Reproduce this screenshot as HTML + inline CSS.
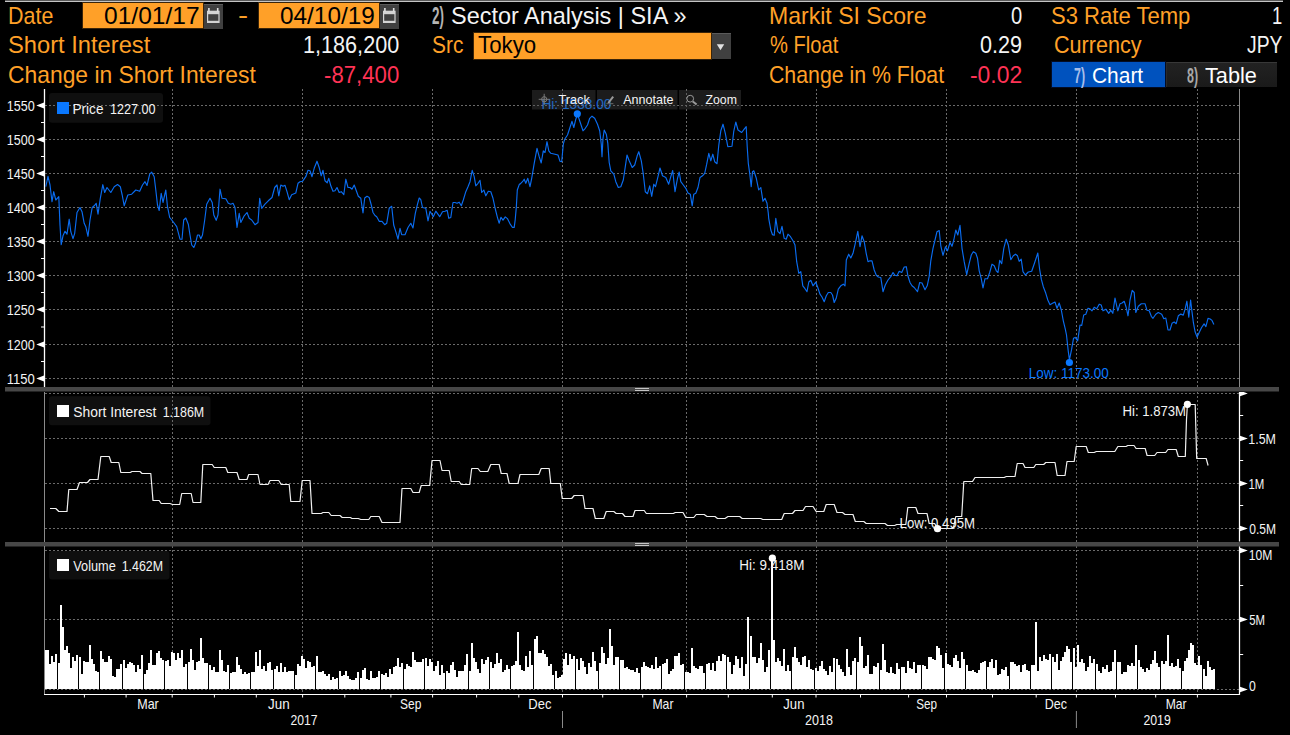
<!DOCTYPE html>
<html lang="en"><head><meta charset="utf-8"><title>Short Interest - Sector Analysis</title>
<style>
html,body{margin:0;padding:0;background:#000;}
body{width:1290px;height:735px;position:relative;overflow:hidden;font-family:"Liberation Sans",sans-serif;color:#f4f4f4;}
.h{position:absolute;white-space:pre;font-size:24px;line-height:30px;height:30px;transform-origin:0 0;}
.b{font-size:22px;}
.n{font-weight:bold;}
.box{position:absolute;box-sizing:border-box;}
.inp{background:#FFA028;border:1px solid #3a2408;}
.btn{background:#404040;border-top:1px solid #5a5a5a;}
svg{position:absolute;left:0;top:0;}
svg text{font-family:"Liberation Sans",sans-serif;font-size:14px;white-space:pre;}
</style></head><body>
<div class="box" style="left:5px;top:0;width:1278px;height:1px;background:#5a5a5a"></div>
<div class="box" style="left:5px;top:1px;width:1278px;height:1px;background:#c4c4c4"></div>
<div class="box inp" style="left:82px;top:2px;width:121.5px;height:27px"></div>
<div class="box btn" style="left:204px;top:4px;width:19px;height:24.5px"></div>
<div class="box inp" style="left:258px;top:2px;width:121.5px;height:27px"></div>
<div class="box btn" style="left:380px;top:4px;width:19px;height:24.5px"></div>
<div class="box inp" style="left:473px;top:32px;width:239px;height:28px"></div>
<div class="box btn" style="left:712.3px;top:33px;width:19px;height:26px"></div>
<div class="box" style="left:1052px;top:62px;width:113px;height:25px;background:#0052BE;outline:1px solid #030c24"></div>
<div class="box" style="left:1166px;top:62px;width:111px;height:25px;background:linear-gradient(#222,#1a1a1a);border-top:1px solid #383838;border-left:1px solid #2a2a2a"></div>
<span class="h" style="left:8.01px;top:1.00px;color:#FFA028;transform:scaleX(0.8937)">Date</span>
<span class="h" style="left:103.99px;top:1.00px;color:#000;transform:scaleX(1.0238)">01/01/17</span>
<span class="h" style="left:237.93px;top:0.00px;color:#FFA028;transform:scaleX(1.2667)">-</span>
<span class="h" style="left:279.79px;top:1.00px;color:#000;transform:scaleX(1.0150)">04/10/19</span>
<span class="h" style="left:7.91px;top:30.00px;color:#FFA028;transform:scaleX(0.9874)">Short Interest</span>
<span class="h" style="left:303.10px;top:30.00px;color:#F4F4F4;transform:scaleX(0.9011)">1,186,200</span>
<span class="h" style="left:7.95px;top:60.00px;color:#FFA028;transform:scaleX(0.9523)">Change in Short Interest</span>
<span class="h" style="left:324.08px;top:60.00px;color:#FF3355;transform:scaleX(0.9244)">-87,400</span>
<span class="h n" style="left:431.50px;top:1.00px;color:#B4B4B4;transform:scaleX(0.5603)">2)</span>
<span class="h" style="left:450.52px;top:1.00px;color:#F4F4F4;transform:scaleX(0.9773)">Sector Analysis | SIA »</span>
<span class="h" style="left:431.63px;top:30.00px;color:#FFA028;transform:scaleX(0.8714)">Src</span>
<span class="h" style="left:478.00px;top:30.00px;color:#000;transform:scaleX(0.9271)">Tokyo</span>
<span class="h" style="left:768.53px;top:1.00px;color:#FFA028;transform:scaleX(0.9601)">Markit SI Score</span>
<span class="h" style="left:1010.80px;top:1.00px;color:#F4F4F4;transform:scaleX(0.8385)">0</span>
<span class="h" style="left:769.70px;top:30.00px;color:#FFA028;transform:scaleX(0.8397)">% Float</span>
<span class="h" style="left:980.00px;top:30.00px;color:#F4F4F4;transform:scaleX(0.8994)">0.29</span>
<span class="h" style="left:768.81px;top:60.00px;color:#FFA028;transform:scaleX(0.8868)">Change in % Float</span>
<span class="h" style="left:969.85px;top:60.00px;color:#FF3355;transform:scaleX(0.9540)">-0.02</span>
<span class="h" style="left:1051.08px;top:1.00px;color:#FFA028;transform:scaleX(0.9189)">S3 Rate Temp</span>
<span class="h" style="left:1271.73px;top:1.00px;color:#F4F4F4;transform:scaleX(0.7667)">1</span>
<span class="h" style="left:1053.60px;top:30.00px;color:#FFA028;transform:scaleX(0.9003)">Currency</span>
<span class="h" style="left:1247.49px;top:30.00px;color:#F4F4F4;transform:scaleX(0.8054)">JPY</span>
<span class="h b n" style="left:1074.30px;top:61.00px;color:#A8BEEA;transform:scaleX(0.5667)">7)</span>
<span class="h b" style="left:1091.65px;top:61.00px;color:#FFFFFF;transform:scaleX(0.9512)">Chart</span>
<span class="h b n" style="left:1186.80px;top:61.00px;color:#A8A8A8;transform:scaleX(0.5667)">8)</span>
<span class="h b" style="left:1205.10px;top:61.00px;color:#FFFFFF;transform:scaleX(0.9855)">Table</span>
<svg width="1290" height="735" viewBox="0 0 1290 735">
<g><rect x="207.0" y="10.7" width="12.6" height="12.3" fill="#d4d4d4"/><rect x="208.2" y="14.2" width="10.2" height="6.6" fill="#404040"/><rect x="208.1" y="8" width="1.6" height="3.6" fill="#e0e0e0"/><rect x="216.9" y="8" width="1.6" height="3.6" fill="#e0e0e0"/></g>
<g><rect x="383.0" y="10.7" width="12.6" height="12.3" fill="#d4d4d4"/><rect x="384.2" y="14.2" width="10.2" height="6.6" fill="#404040"/><rect x="384.1" y="8" width="1.6" height="3.6" fill="#e0e0e0"/><rect x="392.9" y="8" width="1.6" height="3.6" fill="#e0e0e0"/></g>
<polygon points="716.8,44.2 724.2,44.2 720.5,50.3" fill="#e2e2e2"/>
<rect x="49" y="93" width="114" height="29.7" rx="3" fill="#0f0f0f"/>
<rect x="49" y="396.3" width="161.5" height="29" rx="3" fill="#0f0f0f"/>
<rect x="49" y="551" width="120.5" height="28.5" rx="3" fill="#0f0f0f"/>
<path d="M45 105.5H1240M45 139.5H1240M45 173.5H1240M45 207.5H1240M45 241.5H1240M45 275.5H1240M45 309.5H1240M45 344.5H1240M45 378.5H1240M45 393.5H1240M45 438.5H1240M45 483.5H1240M45 528.5H1240M45 550.5H1240M45 619.5H1240M45 689.5H1240M172.2 89V387M172.2 392V542M172.2 546V693M302.6 89V387M302.6 392V542M302.6 546V693M432.6 89V387M432.6 392V542M432.6 546V693M562.5 89V387M562.5 392V542M562.5 546V693M686.6 89V387M686.6 392V542M686.6 546V693M816.0 89V387M816.0 392V542M816.0 546V693M946.5 89V387M946.5 392V542M946.5 546V693M1076.4 89V387M1076.4 392V542M1076.4 546V693M1197.4 89V387M1197.4 392V542M1197.4 546V693" fill="none" stroke="#6a6a6a" stroke-width="1" stroke-dasharray="2 2" shape-rendering="crispEdges"/>
<rect x="57" y="102" width="12" height="12" fill="#0A78FF"/>
<rect x="57" y="405" width="12" height="12" fill="#fff"/>
<rect x="57" y="559" width="12" height="12" fill="#fff"/>
<rect x="5" y="387" width="1274" height="4.5" fill="#474747"/>
<rect x="5" y="542" width="1274" height="4.5" fill="#474747"/>
<path d="M635 388.5H649M635 390.5H649M635 543.5H649M635 545.5H649" stroke="#c4c4c4" stroke-width="1"/>
<path d="M44.5 89V387" stroke="#fff" stroke-width="1.3"/>
<path d="M44.5 392V542M44.5 546V694" stroke="#8a8a8a" stroke-width="1"/>
<path d="M1239.5 89V387" stroke="#8a8a8a" stroke-width="1"/>
<path d="M1239.5 392V541.5M1239.5 546.5V695" stroke="#fff" stroke-width="1.25"/>
<path d="M44 694.5H1240" stroke="#fff" stroke-width="1.1"/>
<path d="M44 102.6L36.3 105.5L44 108.4ZM44 136.6L36.3 139.5L44 142.4ZM44 170.6L36.3 173.5L44 176.4ZM44 204.6L36.3 207.5L44 210.4ZM44 238.6L36.3 241.5L44 244.4ZM44 272.6L36.3 275.5L44 278.4ZM44 306.6L36.3 309.5L44 312.4ZM44 341.6L36.3 344.5L44 347.4ZM44 375.6L36.3 378.5L44 381.4Z" fill="#fff"/>
<path d="M41 122.5H44M41 156.5H44M41 190.5H44M41 224.5H44M41 258.5H44M41 292.5H44M41 327.0H44M41 361.5H44" stroke="#fff" stroke-width="1"/>
<clipPath id="pc"><rect x="1238" y="392" width="20" height="149.5"/><rect x="1238" y="546.5" width="20" height="150"/></clipPath>
<path d="M1240 390.7L1247.8 393.5L1240 396.3ZM1240 435.7L1247.8 438.5L1240 441.3ZM1240 480.7L1247.8 483.5L1240 486.3ZM1240 525.7L1247.8 528.5L1240 531.3ZM1240 547.7L1247.8 550.5L1240 553.3ZM1240 616.7L1247.8 619.5L1240 622.3ZM1240 686.7L1247.8 689.5L1240 692.3Z" fill="#fff" clip-path="url(#pc)"/>
<path d="M1240 415.5H1243.2M1240 460.5H1243.2M1240 505.5H1243.2M1240 585.5H1243.2M1240 654.5H1243.2" stroke="#fff" stroke-width="1"/>
<path d="M84.4 694V697.5M126.1 694V697.5M172.2 694V697.5M214.4 694V697.5M256.3 694V697.5M302.6 694V697.5M344.8 694V697.5M390.9 694V697.5M432.6 694V697.5M476.6 694V697.5M518.8 694V697.5M562.5 694V697.5M602.7 694V697.5M642.7 694V697.5M686.6 694V697.5M728.3 694V697.5M772.3 694V697.5M816.0 694V697.5M860.5 694V697.5M908.6 694V697.5M946.5 694V697.5M992.5 694V697.5M1036.2 694V697.5M1076.4 694V697.5M1115.5 694V697.5M1155.7 694V697.5M1197.4 694V697.5" stroke="#fff" stroke-width="1"/>
<path d="M562.5 711V728M1076.4 711V728" stroke="#8a8a8a" stroke-width="1"/>
<path d="M45 689V650H49V689ZM49 689V664H51V689ZM51 689V656H53V689ZM53 689V662H55V689ZM55 689V654H57V689ZM58 689V663H60V689ZM60 689V605H62V689ZM62 689V627H64V689ZM64 689V650H66V689ZM66 689V646H68V689ZM68 689V653H70V689ZM70 689V668H72V689ZM72 689V657H74V689ZM74 689V661H76V689ZM76 689V655H78V689ZM79 689V657H81V689ZM81 689V674H83V689ZM83 689V661H85V689ZM85 689V662H87V689ZM87 689V662H89V689ZM89 689V645H91V689ZM91 689V659H93V689ZM93 689V664H95V689ZM95 689V671H97V689ZM97 689V672H99V689ZM100 689V651H102V689ZM102 689V659H104V689ZM104 689V662H108V689ZM108 689V656H110V689ZM110 689V659H112V689ZM112 689V676H114V689ZM114 689V677H116V689ZM116 689V669H120V689ZM120 689V664H122V689ZM123 689V660H125V689ZM125 689V668H127V689ZM127 689V664H129V689ZM129 689V662H131V689ZM131 689V663H133V689ZM133 689V665H135V689ZM135 689V672H137V689ZM137 689V665H139V689ZM139 689V669H141V689ZM141 689V655H143V689ZM144 689V674H146V689ZM146 689V670H148V689ZM148 689V663H150V689ZM150 689V650H152V689ZM152 689V665H156V689ZM156 689V653H158V689ZM158 689V651H160V689ZM160 689V658H162V689ZM162 689V660H164V689ZM165 689V661H167V689ZM167 689V660H169V689ZM169 689V666H171V689ZM171 689V652H173V689ZM173 689V653H175V689ZM175 689V660H177V689ZM177 689V653H179V689ZM179 689V658H181V689ZM181 689V650H183V689ZM183 689V667H185V689ZM185 689V664H187V689ZM188 689V662H190V689ZM190 689V649H192V689ZM192 689V660H194V689ZM194 689V670H196V689ZM196 689V662H198V689ZM198 689V661H200V689ZM200 689V638H202V689ZM202 689V658H204V689ZM204 689V663H208V689ZM209 689V665H211V689ZM211 689V670H213V689ZM213 689V667H215V689ZM215 689V672H219V689ZM219 689V650H221V689ZM221 689V660H223V689ZM223 689V671H225V689ZM225 689V672H227V689ZM227 689V665H229V689ZM230 689V673H232V689ZM232 689V672H236V689ZM236 689V657H238V689ZM238 689V665H240V689ZM240 689V669H242V689ZM242 689V674H244V689ZM244 689V672H246V689ZM246 689V674H248V689ZM248 689V673H250V689ZM251 689V672H255V689ZM255 689V652H257V689ZM257 689V666H259V689ZM259 689V650H260V689ZM260 689V650H261V689ZM261 689V669H263V689ZM263 689V666H265V689ZM265 689V671H267V689ZM267 689V663H269V689ZM269 689V662H271V689ZM271 689V670H273V689ZM274 689V669H276V689ZM276 689V666H278V689ZM278 689V672H280V689ZM280 689V663H282V689ZM282 689V672H284V689ZM284 689V667H286V689ZM286 689V672H288V689ZM288 689V671H294V689ZM295 689V675H297V689ZM297 689V664H299V689ZM299 689V666H301V689ZM301 689V656H303V689ZM303 689V659H305V689ZM305 689V668H307V689ZM307 689V661H309V689ZM309 689V662H311V689ZM311 689V667H313V689ZM313 689V666H315V689ZM316 689V656H318V689ZM318 689V672H322V689ZM322 689V671H324V689ZM324 689V674H326V689ZM326 689V676H328V689ZM328 689V674H330V689ZM330 689V680H332V689ZM332 689V677H334V689ZM334 689V679H336V689ZM336 689V678H338V689ZM339 689V671H341V689ZM341 689V676H343V689ZM343 689V675H345V689ZM345 689V671H347V689ZM347 689V676H349V689ZM349 689V679H351V689ZM351 689V680H355V689ZM355 689V678H357V689ZM357 689V672H359V689ZM360 689V678H362V689ZM362 689V670H364V689ZM364 689V668H366V689ZM366 689V679H368V689ZM368 689V680H370V689ZM370 689V671H372V689ZM372 689V678H376V689ZM376 689V677H378V689ZM378 689V671H380V689ZM381 689V674H383V689ZM383 689V675H385V689ZM385 689V673H387V689ZM387 689V677H389V689ZM389 689V669H391V689ZM391 689V674H393V689ZM393 689V667H395V689ZM395 689V666H397V689ZM397 689V658H399V689ZM399 689V667H401V689ZM401 689V663H403V689ZM404 689V669H406V689ZM406 689V664H408V689ZM408 689V666H410V689ZM410 689V667H412V689ZM412 689V652H414V689ZM414 689V660H416V689ZM416 689V662H418V689ZM418 689V662H422V689ZM422 689V659H424V689ZM425 689V658H427V689ZM427 689V666H429V689ZM429 689V659H431V689ZM431 689V662H433V689ZM433 689V671H435V689ZM435 689V666H437V689ZM437 689V661H439V689ZM439 689V675H441V689ZM441 689V665H443V689ZM443 689V673H445V689ZM446 689V671H448V689ZM448 689V673H450V689ZM450 689V665H452V689ZM452 689V662H454V689ZM454 689V670H456V689ZM456 689V677H458V689ZM458 689V671H464V689ZM464 689V665H466V689ZM466 689V654H468V689ZM469 689V671H471V689ZM471 689V643H473V689ZM473 689V658H475V689ZM475 689V662H477V689ZM477 689V669H479V689ZM479 689V673H481V689ZM481 689V659H483V689ZM483 689V664H485V689ZM485 689V660H487V689ZM487 689V657H489V689ZM490 689V662H492V689ZM492 689V668H494V689ZM494 689V664H496V689ZM496 689V653H498V689ZM498 689V663H500V689ZM500 689V659H502V689ZM502 689V672H504V689ZM504 689V670H506V689ZM506 689V665H508V689ZM508 689V669H510V689ZM511 689V666H513V689ZM513 689V665H515V689ZM515 689V661H517V689ZM517 689V632H519V689ZM519 689V665H521V689ZM521 689V670H523V689ZM523 689V671H525V689ZM525 689V656H527V689ZM527 689V667H529V689ZM529 689V651H531V689ZM531 689V665H533V689ZM534 689V639H536V689ZM536 689V636H538V689ZM538 689V653H542V689ZM542 689V650H544V689ZM544 689V654H546V689ZM546 689V657H548V689ZM548 689V666H550V689ZM550 689V664H552V689ZM552 689V675H554V689ZM555 689V671H557V689ZM557 689V678H559V689ZM559 689V677H561V689ZM561 689V675H563V689ZM563 689V659H565V689ZM565 689V653H567V689ZM567 689V665H569V689ZM569 689V654H571V689ZM571 689V659H573V689ZM573 689V656H575V689ZM576 689V659H578V689ZM578 689V670H580V689ZM580 689V658H582V689ZM582 689V661H584V689ZM584 689V667H586V689ZM586 689V674H588V689ZM588 689V663H590V689ZM590 689V667H592V689ZM592 689V652H594V689ZM594 689V661H596V689ZM596 689V671H598V689ZM599 689V663H601V689ZM601 689V647H603V689ZM603 689V653H605V689ZM605 689V664H607V689ZM607 689V658H609V689ZM609 689V629H611V689ZM611 689V646H613V689ZM613 689V665H615V689ZM615 689V657H619V689ZM620 689V660H624V689ZM624 689V668H626V689ZM626 689V667H628V689ZM628 689V669H630V689ZM630 689V670H634V689ZM634 689V672H636V689ZM636 689V668H638V689ZM638 689V673H640V689ZM641 689V667H643V689ZM643 689V662H645V689ZM645 689V666H647V689ZM647 689V667H649V689ZM649 689V668H651V689ZM651 689V665H653V689ZM653 689V669H655V689ZM655 689V657H657V689ZM657 689V668H659V689ZM659 689V666H661V689ZM662 689V664H664V689ZM664 689V663H666V689ZM666 689V659H668V689ZM668 689V674H670V689ZM670 689V671H672V689ZM672 689V669H674V689ZM674 689V656H678V689ZM678 689V653H680V689ZM680 689V665H682V689ZM682 689V664H684V689ZM685 689V672H689V689ZM689 689V673H690V689ZM690 689V673H691V689ZM691 689V648H693V689ZM693 689V666H695V689ZM695 689V668H697V689ZM697 689V669H699V689ZM699 689V666H703V689ZM703 689V673H705V689ZM706 689V664H708V689ZM708 689V663H710V689ZM710 689V670H712V689ZM712 689V663H714V689ZM714 689V671H716V689ZM716 689V661H718V689ZM718 689V656H720V689ZM720 689V661H722V689ZM722 689V654H724V689ZM724 689V655H726V689ZM727 689V657H729V689ZM729 689V662H731V689ZM731 689V674H733V689ZM733 689V665H735V689ZM735 689V656H737V689ZM737 689V659H739V689ZM739 689V668H741V689ZM741 689V657H743V689ZM743 689V676H745V689ZM745 689V664H747V689ZM747 689V617H749V689ZM750 689V636H752V689ZM752 689V657H756V689ZM756 689V663H758V689ZM758 689V658H760V689ZM760 689V643H762V689ZM762 689V660H764V689ZM764 689V672H766V689ZM766 689V667H768V689ZM768 689V650H770V689ZM771 689V559H773V689ZM773 689V640H775V689ZM775 689V662H777V689ZM777 689V658H779V689ZM779 689V661H781V689ZM781 689V666H783V689ZM783 689V649H785V689ZM785 689V671H787V689ZM787 689V665H789V689ZM789 689V671H791V689ZM792 689V657H794V689ZM794 689V647H796V689ZM796 689V658H798V689ZM798 689V662H800V689ZM800 689V665H802V689ZM802 689V657H804V689ZM804 689V656H806V689ZM806 689V667H808V689ZM808 689V660H810V689ZM810 689V669H812V689ZM812 689V670H814V689ZM815 689V668H817V689ZM817 689V671H819V689ZM819 689V666H821V689ZM821 689V661H823V689ZM823 689V669H825V689ZM825 689V671H827V689ZM827 689V675H829V689ZM829 689V666H831V689ZM831 689V672H833V689ZM833 689V658H835V689ZM836 689V659H838V689ZM838 689V665H840V689ZM840 689V669H842V689ZM842 689V672H844V689ZM844 689V676H846V689ZM846 689V649H848V689ZM848 689V667H850V689ZM850 689V675H852V689ZM852 689V661H854V689ZM854 689V658H856V689ZM857 689V662H859V689ZM859 689V637H861V689ZM861 689V646H863V689ZM863 689V668H865V689ZM865 689V666H867V689ZM867 689V655H869V689ZM869 689V674H873V689ZM873 689V666H875V689ZM875 689V667H877V689ZM877 689V663H879V689ZM880 689V670H882V689ZM882 689V644H884V689ZM884 689V660H886V689ZM886 689V672H888V689ZM888 689V673H890V689ZM890 689V667H892V689ZM892 689V673H894V689ZM894 689V674H896V689ZM896 689V663H898V689ZM898 689V669H900V689ZM901 689V667H905V689ZM905 689V673H907V689ZM907 689V661H909V689ZM909 689V668H911V689ZM911 689V669H913V689ZM913 689V662H915V689ZM915 689V673H917V689ZM917 689V665H921V689ZM922 689V665H924V689ZM924 689V666H926V689ZM926 689V669H928V689ZM928 689V657H932V689ZM932 689V659H934V689ZM934 689V660H936V689ZM936 689V646H938V689ZM938 689V648H940V689ZM940 689V655H942V689ZM942 689V668H944V689ZM945 689V653H947V689ZM947 689V664H949V689ZM949 689V665H951V689ZM951 689V667H953V689ZM953 689V658H955V689ZM955 689V655H957V689ZM957 689V661H959V689ZM959 689V668H961V689ZM961 689V652H963V689ZM963 689V659H965V689ZM966 689V665H968V689ZM968 689V671H972V689ZM972 689V670H974V689ZM974 689V672H976V689ZM976 689V673H978V689ZM978 689V670H980V689ZM980 689V663H982V689ZM982 689V662H984V689ZM984 689V661H986V689ZM987 689V667H989V689ZM989 689V662H991V689ZM991 689V659H993V689ZM993 689V668H995V689ZM995 689V660H997V689ZM997 689V675H999V689ZM999 689V674H1001V689ZM1001 689V669H1003V689ZM1003 689V670H1005V689ZM1005 689V667H1007V689ZM1007 689V676H1009V689ZM1010 689V662H1014V689ZM1014 689V664H1016V689ZM1016 689V666H1018V689ZM1018 689V665H1020V689ZM1020 689V672H1022V689ZM1022 689V665H1024V689ZM1024 689V664H1026V689ZM1026 689V670H1028V689ZM1028 689V671H1030V689ZM1031 689V665H1035V689ZM1035 689V622H1037V689ZM1037 689V671H1039V689ZM1039 689V657H1041V689ZM1041 689V661H1043V689ZM1043 689V655H1045V689ZM1045 689V659H1047V689ZM1047 689V660H1049V689ZM1049 689V654H1051V689ZM1052 689V657H1054V689ZM1054 689V662H1056V689ZM1056 689V654H1058V689ZM1058 689V670H1060V689ZM1060 689V661H1062V689ZM1062 689V657H1064V689ZM1064 689V652H1066V689ZM1066 689V646H1068V689ZM1068 689V649H1070V689ZM1070 689V662H1072V689ZM1073 689V648H1075V689ZM1075 689V667H1077V689ZM1077 689V645H1079V689ZM1079 689V662H1081V689ZM1081 689V659H1083V689ZM1083 689V663H1085V689ZM1085 689V671H1087V689ZM1087 689V667H1089V689ZM1089 689V656H1091V689ZM1091 689V663H1093V689ZM1093 689V659H1095V689ZM1096 689V664H1098V689ZM1098 689V671H1100V689ZM1100 689V673H1102V689ZM1102 689V667H1104V689ZM1104 689V669H1106V689ZM1106 689V665H1108V689ZM1108 689V672H1110V689ZM1110 689V671H1112V689ZM1112 689V662H1114V689ZM1114 689V650H1116V689ZM1117 689V662H1120V689ZM1117 689V662H1121V689ZM1121 689V674H1123V689ZM1123 689V672H1127V689ZM1127 689V665H1129V689ZM1129 689V666H1131V689ZM1131 689V663H1133V689ZM1133 689V666H1135V689ZM1135 689V645H1137V689ZM1138 689V660H1140V689ZM1140 689V667H1142V689ZM1142 689V669H1144V689ZM1144 689V672H1146V689ZM1146 689V668H1148V689ZM1148 689V670H1150V689ZM1150 689V664H1152V689ZM1152 689V660H1154V689ZM1154 689V651H1156V689ZM1156 689V663H1158V689ZM1158 689V667H1160V689ZM1161 689V661H1163V689ZM1163 689V664H1165V689ZM1165 689V661H1167V689ZM1167 689V635H1169V689ZM1169 689V666H1171V689ZM1171 689V663H1173V689ZM1173 689V667H1175V689ZM1175 689V666H1177V689ZM1177 689V659H1179V689ZM1179 689V668H1181V689ZM1182 689V671H1184V689ZM1184 689V661H1186V689ZM1186 689V658H1188V689ZM1188 689V650H1190V689ZM1190 689V643H1192V689ZM1192 689V645H1194V689ZM1194 689V663H1196V689ZM1196 689V665H1198V689ZM1198 689V656H1200V689ZM1200 689V665H1202V689ZM1203 689V669H1205V689ZM1205 689V676H1207V689ZM1207 689V661H1209V689ZM1209 689V667H1211V689ZM1211 689V670H1213V689ZM1213 689V669H1215V689Z" fill="#fff" shape-rendering="crispEdges"/>
<path d="M45.8 186.7L48.0 176.3L50.0 185.0L52.0 201.7L53.7 191.7L55.8 200.0L58.8 196.7L60.0 225.0L61.2 244.7L63.0 235.8L65.0 231.3L67.0 234.2L69.2 219.2L70.8 231.7L73.0 238.7L74.7 233.3L77.0 212.5L80.0 207.5L82.0 211.7L84.2 223.3L85.8 226.7L88.0 236.3L90.0 220.0L92.2 207.5L94.2 205.8L96.2 203.3L98.0 214.2L100.3 198.3L102.8 184.7L104.7 192.5L107.0 187.5L110.8 192.5L114.2 186.7L117.5 184.5L120.3 186.7L122.2 195.0L124.2 205.8L127.8 195.0L131.7 194.2L135.8 190.0L139.7 191.3L142.5 185.0L145.0 181.7L147.0 185.5L149.7 174.2L151.7 172.2L154.2 176.7L155.8 190.0L157.5 205.0L159.2 210.5L161.2 193.3L163.0 202.5L165.8 190.0L167.5 206.7L169.7 217.5L173.3 222.0L176.7 226.7L180.0 239.2L182.0 239.2L183.7 220.0L185.8 218.0L188.3 224.2L190.0 235.0L191.7 245.0L193.8 247.5L195.5 243.3L197.5 235.0L199.2 235.0L200.8 238.7L202.5 235.0L204.7 220.0L206.7 204.2L210.0 198.3L212.2 202.5L213.8 215.0L216.2 220.3L218.0 215.0L220.0 189.2L222.0 198.3L225.8 198.7L228.3 203.3L230.8 204.2L233.0 203.3L235.0 207.5L237.0 227.5L239.2 213.3L240.8 222.5L244.2 215.8L247.0 212.5L249.2 218.3L251.7 220.0L255.0 224.7L258.0 222.5L259.7 198.3L261.7 208.3L265.0 204.2L268.3 200.8L272.0 197.5L274.7 187.5L277.0 185.0L278.8 195.8L280.8 185.0L283.0 186.3L285.0 185.3L287.0 191.7L289.2 199.7L291.7 194.7L295.8 193.0L298.0 183.3L300.0 181.7L302.5 181.3L305.8 176.7L308.0 170.3L310.0 170.8L312.0 176.7L314.2 168.3L317.0 161.2L319.2 167.5L321.2 175.8L323.0 170.3L325.0 180.8L327.2 182.8L328.8 178.3L330.8 185.8L333.0 191.3L335.0 190.8L337.0 187.5L339.2 192.5L341.3 191.7L343.8 194.7L345.8 179.2L348.0 187.5L350.0 187.5L352.0 189.2L354.2 185.0L356.3 190.8L358.3 196.3L360.8 198.3L363.0 213.0L364.7 198.0L367.0 196.3L369.2 197.5L371.3 205.0L373.0 212.5L375.0 215.5L376.7 216.7L379.2 221.3L382.0 221.3L384.7 224.7L386.7 223.3L389.2 208.3L391.7 206.3L393.7 225.0L395.8 231.7L398.0 239.2L400.0 228.3L401.7 234.7L405.0 234.7L408.0 227.5L410.8 223.3L413.0 228.0L415.3 213.3L417.5 204.2L419.2 198.0L420.8 199.7L422.5 207.5L425.8 208.3L428.0 220.8L430.0 211.3L433.3 216.7L435.8 211.2L439.7 216.7L442.5 211.7L445.0 211.3L447.2 210.3L448.8 218.3L450.8 217.5L453.0 202.5L455.0 202.5L457.0 203.3L459.2 202.2L461.3 205.8L463.3 200.0L465.8 191.7L468.0 186.7L470.0 181.7L472.2 170.3L474.2 176.7L475.8 185.8L478.0 183.3L480.0 180.3L481.7 192.5L483.8 190.0L485.8 195.8L488.3 191.3L490.8 191.7L493.0 198.3L495.3 209.0L497.4 217.3L499.1 223.2L501.0 217.3L503.0 220.2L505.3 216.9L507.4 218.6L509.9 223.6L512.3 227.3L514.2 227.3L515.2 219.8L516.3 207.4L517.3 190.0L519.4 184.1L520.0 184.2L522.5 181.7L524.2 179.2L525.8 183.3L527.8 178.3L530.0 186.7L531.7 178.3L534.2 163.3L537.0 148.3L539.2 156.7L541.2 163.0L543.3 150.8L545.0 152.5L547.0 141.7L548.8 150.8L550.8 153.3L555.0 154.2L558.0 155.0L560.0 161.3L561.7 161.7L563.3 144.2L564.7 139.2L567.5 135.0L569.7 128.3L572.0 121.3L573.8 127.5L575.8 119.2L577.5 114.2L580.0 121.7L583.0 130.8L585.3 128.3L587.5 125.0L589.7 118.3L592.0 116.2L594.7 118.3L597.5 124.2L599.7 130.8L601.3 144.2L602.0 156.7L603.0 138.3L604.2 130.0L606.3 134.2L607.8 143.3L609.2 162.5L610.8 170.8L613.8 174.2L615.8 181.7L618.3 187.5L620.8 186.7L623.3 180.0L625.3 166.7L627.0 155.0L629.2 160.8L632.2 167.5L634.7 165.0L637.2 155.8L638.8 151.7L641.3 160.8L643.3 174.2L645.3 191.7L647.5 193.7L649.7 185.8L651.7 196.3L653.8 184.2L655.5 186.7L658.0 176.7L660.0 168.0L662.5 175.8L665.8 177.5L668.7 184.2L670.8 176.7L672.7 170.5L675.0 191.7L677.5 178.3L679.2 172.0L680.8 181.7L683.3 185.0L685.8 188.3L688.0 193.0L690.3 194.2L692.2 205.8L693.8 194.2L695.8 193.3L698.0 187.5L700.0 177.5L702.5 175.8L704.7 173.3L706.7 164.2L708.8 153.3L710.8 160.8L712.8 154.2L714.7 161.7L717.0 163.7L718.8 145.0L720.8 130.8L723.0 124.2L725.3 133.3L727.8 146.7L732.0 146.3L733.7 131.7L735.8 122.0L738.0 130.0L741.7 132.5L744.2 129.2L746.2 126.7L747.2 146.7L748.3 163.3L749.7 173.3L751.2 186.7L752.5 171.7L753.8 170.8L756.3 178.3L758.7 190.0L760.8 187.5L763.0 201.3L765.0 198.3L767.0 203.3L768.3 213.3L768.7 218.3L770.8 230.0L772.5 234.7L774.2 235.3L775.8 218.3L777.8 231.3L780.0 233.7L782.0 226.3L784.2 238.3L786.2 239.2L788.0 234.2L790.5 236.7L793.0 240.8L795.0 245.0L796.7 261.7L798.8 273.3L800.8 271.7L802.8 285.8L805.0 288.7L807.0 291.7L808.8 282.0L810.8 280.3L813.0 285.8L815.8 282.2L817.8 287.5L820.0 294.2L822.0 297.0L824.2 301.7L826.3 295.8L828.3 292.5L830.8 292.5L832.5 295.0L834.2 302.5L836.2 298.3L838.3 289.2L840.8 285.8L843.3 284.2L845.0 285.8L846.3 260.0L848.7 254.2L850.8 258.0L853.0 253.3L855.3 243.3L857.8 231.3L860.0 246.7L862.0 235.8L864.2 241.7L866.2 253.3L868.0 261.7L870.0 260.8L872.0 260.8L874.2 270.0L876.3 275.3L878.3 277.0L880.8 277.5L883.0 291.7L885.3 285.0L888.0 280.0L890.8 276.7L893.0 272.5L895.0 275.3L897.0 275.8L899.2 271.3L901.7 272.5L904.2 267.0L906.3 266.7L908.0 276.3L910.0 282.5L912.0 285.8L914.2 287.5L917.5 291.7L919.7 282.5L922.0 283.0L925.0 289.7L927.2 285.8L929.2 276.3L930.8 260.8L933.0 248.3L935.0 240.0L937.0 231.7L939.2 230.5L940.8 245.8L943.0 255.3L945.5 246.7L947.5 250.8L950.0 242.5L952.0 246.3L953.8 240.0L955.8 230.0L957.8 235.0L960.0 225.3L962.0 248.3L964.2 261.7L966.7 274.7L969.2 263.3L971.3 255.0L973.3 251.7L975.8 253.3L977.5 258.3L979.2 270.8L981.2 278.3L983.0 288.0L985.0 278.7L987.5 278.7L989.7 272.5L992.0 264.2L994.2 265.8L996.3 270.8L998.0 272.5L999.7 260.3L1001.7 263.7L1003.8 248.3L1006.2 239.2L1008.3 245.0L1010.8 259.7L1013.3 255.8L1015.5 254.2L1017.5 255.8L1019.2 261.3L1021.2 259.2L1023.0 271.7L1025.3 275.0L1028.3 272.0L1031.7 271.3L1034.7 262.5L1037.8 253.0L1039.5 268.3L1041.3 279.2L1043.3 286.7L1045.8 293.3L1047.8 300.0L1050.0 304.7L1052.5 303.3L1055.0 302.0L1057.0 308.3L1059.2 303.0L1061.3 310.0L1063.3 320.8L1065.3 329.2L1066.5 335.0L1068.1 349.9L1069.4 359.9L1071.5 349.9L1073.5 338.3L1075.2 337.4L1077.7 340.8L1080.0 325.0L1081.7 325.5L1083.7 315.0L1085.8 314.2L1088.0 308.3L1090.0 308.8L1092.0 310.8L1094.2 307.2L1096.7 308.8L1099.2 304.2L1101.2 305.0L1103.0 310.8L1105.8 309.2L1108.7 313.3L1110.8 310.3L1112.8 313.3L1115.0 298.0L1117.8 310.8L1120.0 303.7L1122.0 303.0L1124.2 301.3L1126.2 307.5L1128.0 315.8L1130.0 300.0L1132.2 290.3L1134.2 292.5L1135.8 312.5L1138.3 306.3L1141.3 303.7L1145.0 303.7L1147.0 310.3L1149.2 310.8L1151.3 316.3L1153.0 318.3L1155.8 314.2L1158.3 312.5L1161.7 314.2L1163.8 318.7L1165.8 318.0L1168.0 330.0L1170.0 330.0L1172.0 323.3L1174.2 322.0L1176.2 323.7L1178.3 315.8L1180.8 314.1L1183.3 315.1L1185.1 309.2L1186.9 301.2L1188.8 317.1L1190.6 300.0L1191.8 310.4L1193.4 322.7L1195.1 331.8L1197.1 337.1L1199.2 332.4L1201.6 327.5L1204.1 323.9L1205.9 326.6L1208.0 318.4L1210.2 319.0L1212.0 320.4L1213.9 324.5" fill="none" stroke="#0A6CF0" stroke-width="1.15" stroke-linejoin="round"/>
<circle cx="577.3" cy="113.8" r="3.6" fill="#0A78FF"/>
<circle cx="1069.4" cy="362.5" r="3.6" fill="#0A78FF"/>
<path d="M50.0 508.5L55.8 508.5L58.8 511.5L67.0 511.5L68.8 489.5L77.0 489.5L79.5 482.5L87.5 482.5L90.0 479.5L98.0 479.5L100.8 456.5L109.2 456.5L111.2 462.5L118.8 462.5L120.8 472.5L130.3 472.5L132.0 471.5L140.0 471.5L142.0 473.5L150.8 473.5L153.0 500.5L159.2 500.5L161.2 503.5L170.0 503.5L172.5 504.5L179.7 504.5L181.7 493.5L191.2 493.5L193.0 502.5L200.8 502.5L202.8 464.5L212.2 464.5L214.2 467.5L225.8 467.5L227.8 472.5L237.0 472.5L239.2 479.5L247.0 479.5L248.7 474.5L258.0 474.5L258.0 474.5L260.0 484.5L268.0 484.5L270.0 480.5L278.8 480.5L281.2 484.5L289.2 484.5L290.8 501.5L300.0 501.5L302.2 480.5L310.0 480.5L312.0 513.5L321.3 513.5L323.0 512.5L328.8 512.5L331.2 515.5L340.0 515.5L342.2 517.5L350.3 517.5L352.0 518.5L358.3 518.5L360.8 519.5L368.8 519.5L370.8 516.5L379.2 516.5L382.0 522.5L400.0 522.5L402.0 488.5L410.8 488.5L413.0 492.5L419.2 492.5L421.2 485.5L429.7 485.5L432.0 460.5L440.0 460.5L442.0 470.5L449.2 470.5L451.2 481.5L459.2 481.5L461.2 484.5L468.3 484.5L469.7 484.5L471.7 468.5L478.0 468.5L480.3 471.5L487.8 471.5L490.8 464.5L499.2 464.5L501.2 473.5L507.0 473.5L509.2 483.5L518.0 483.5L520.0 474.5L538.8 474.5L541.2 468.5L549.2 468.5L550.8 483.5L560.3 483.5L562.2 498.5L571.7 498.5L574.2 495.5L583.0 495.5L585.0 508.5L593.0 508.5L595.3 518.5L603.8 518.5L606.2 511.5L613.8 511.5L616.2 513.5L622.5 513.5L625.0 516.5L633.0 516.5L635.0 510.5L644.2 510.5L646.3 513.5L673.3 513.5L675.3 512.5L678.3 512.5L683.0 512.5L685.8 517.5L693.8 517.5L696.2 514.5L704.2 514.5L707.0 516.5L715.0 516.5L717.5 518.5L725.0 518.5L728.0 516.5L739.7 516.5L742.2 518.5L760.8 518.5L762.8 519.5L781.7 519.5L784.2 513.5L792.5 513.5L795.0 510.5L803.0 510.5L805.5 506.5L813.0 506.5L816.2 511.5L823.8 511.5L826.2 504.5L834.2 504.5L837.0 512.5L842.5 512.5L845.0 514.5L853.0 514.5L855.3 521.5L863.8 521.5L866.2 523.5L885.0 523.5L887.5 525.5L894.7 525.5L896.7 524.5L905.8 524.5L907.8 507.5L915.8 507.5L918.0 513.5L927.0 513.5L929.2 523.5L934.7 523.5L937.2 528.5L953.3 528.5L955.8 516.5L961.7 516.5L963.8 481.5L972.5 481.5L975.0 477.5L1004.2 477.5L1006.3 476.5L1015.0 476.5L1017.2 463.5L1023.0 463.5L1025.0 467.5L1033.8 467.5L1035.8 464.5L1043.7 464.5L1045.8 462.5L1055.0 462.5L1057.2 475.5L1065.0 475.5L1067.0 461.5L1074.2 461.5L1076.2 446.5L1086.2 446.5L1088.3 452.5L1094.2 452.5L1096.3 451.5L1099.2 451.5L1114.8 451.5L1117.9 446.5L1126.0 446.5L1127.8 445.5L1134.0 445.5L1136.1 448.5L1145.2 448.5L1147.1 455.5L1154.7 455.5L1157.0 452.5L1165.7 452.5L1167.9 449.5L1176.2 449.5L1178.3 456.5L1185.3 456.5L1186.5 419.5L1187.4 404.5L1195.2 404.5L1195.8 426.5L1196.7 458.5L1206.2 458.5L1208.1 465.5" fill="none" stroke="#f0f0f0" stroke-width="1.2" stroke-linejoin="round"/>
<circle cx="1187.4" cy="404.3" r="3.6" fill="#fff"/>
<circle cx="937.5" cy="528.7" r="3.6" fill="#fff"/>
<circle cx="772.4" cy="558.2" r="3.6" fill="#fff"/>
<text transform="translate(541.42 109) scale(0.9785 1)" fill="#0A78FF">Hi: 1538.00</text>
<rect x="532" y="90" width="63.5" height="19.5" fill="#4d4d4d" fill-opacity="0.365"/>
<rect x="597" y="90" width="80.5" height="19.5" fill="#4d4d4d" fill-opacity="0.365"/>
<rect x="679" y="90" width="62" height="19.5" fill="#4d4d4d" fill-opacity="0.365"/>
<g stroke="#7a7a7a" stroke-width="1" fill="none"><circle cx="544.2" cy="99.3" r="2.6"/><path d="M544.2 93.8V104.8M538.7 99.3H549.7"/></g>
<path d="M608.3 103L613.2 96.6" stroke="#9a9a9a" stroke-width="2" fill="none"/><path d="M606.4 103.7H613.4" stroke="#6a6a6a" stroke-width="1"/>
<g stroke="#9a9a9a" fill="none"><circle cx="690.2" cy="98.7" r="3.4" stroke-width="1"/><path d="M692.8 101.4L696.6 104.6" stroke-width="2"/></g>
<text transform="translate(6.80 111) scale(0.8993 1)" fill="#F4F4F4">1550</text>
<text transform="translate(6.80 145) scale(0.8993 1)" fill="#F4F4F4">1500</text>
<text transform="translate(6.80 179) scale(0.8993 1)" fill="#F4F4F4">1450</text>
<text transform="translate(6.80 213) scale(0.8993 1)" fill="#F4F4F4">1400</text>
<text transform="translate(6.80 247) scale(0.8993 1)" fill="#F4F4F4">1350</text>
<text transform="translate(6.80 281) scale(0.8993 1)" fill="#F4F4F4">1300</text>
<text transform="translate(6.80 315) scale(0.8993 1)" fill="#F4F4F4">1250</text>
<text transform="translate(6.80 350) scale(0.8993 1)" fill="#F4F4F4">1200</text>
<text transform="translate(6.77 384) scale(0.9311 1)" fill="#F4F4F4">1150</text>
<text transform="translate(72.43 114) scale(0.9740 1)" fill="#F4F4F4">Price</text>
<text transform="translate(109.90 114) scale(0.9012 1)" fill="#F4F4F4">1227.00</text>
<text transform="translate(73.30 417) scale(0.9899 1)" fill="#F4F4F4">Short Interest</text>
<text transform="translate(162.71 417) scale(0.8882 1)" fill="#F4F4F4">1.186M</text>
<text transform="translate(73.30 571) scale(0.9103 1)" fill="#F4F4F4">Volume</text>
<text transform="translate(121.71 571) scale(0.8860 1)" fill="#F4F4F4">1.462M</text>
<text transform="translate(558.50 104) scale(1.0610 1)" fill="#F4F4F4" style="font-size:12px">Track</text>
<text transform="translate(623.20 104) scale(1.0471 1)" fill="#F4F4F4" style="font-size:12px">Annotate</text>
<text transform="translate(705.50 104) scale(1.0268 1)" fill="#F4F4F4" style="font-size:12px">Zoom</text>
<text transform="translate(1028.74 378) scale(0.9643 1)" fill="#0A78FF">Low: 1173.00</text>
<text transform="translate(1122.56 416) scale(0.9389 1)" fill="#F4F4F4">Hi: 1.873M</text>
<text transform="translate(899.56 528) scale(0.9427 1)" fill="#F4F4F4">Low: 0.495M</text>
<text transform="translate(739.34 570) scale(0.9616 1)" fill="#F4F4F4">Hi: 9.418M</text>
<text transform="translate(1248.31 444) scale(0.8893 1)" fill="#F4F4F4">1.5M</text>
<text transform="translate(1248.38 489) scale(0.8152 1)" fill="#F4F4F4">1M</text>
<text transform="translate(1249.20 534) scale(0.8601 1)" fill="#F4F4F4">0.5M</text>
<text transform="translate(1248.63 560) scale(0.8681 1)" fill="#F4F4F4">10M</text>
<text transform="translate(1249.20 625) scale(0.8144 1)" fill="#F4F4F4">5M</text>
<text transform="translate(1249.00 691) scale(0.8750 1)" fill="#F4F4F4">0</text>
<text transform="translate(137.20 709) scale(0.8956 1)" fill="#F4F4F4">Mar</text>
<text transform="translate(268.10 709) scale(0.9593 1)" fill="#F4F4F4">Jun</text>
<text transform="translate(400.10 709) scale(0.8558 1)" fill="#F4F4F4">Sep</text>
<text transform="translate(528.37 709) scale(0.9290 1)" fill="#F4F4F4">Dec</text>
<text transform="translate(652.43 709) scale(0.8743 1)" fill="#F4F4F4">Mar</text>
<text transform="translate(783.30 709) scale(0.9364 1)" fill="#F4F4F4">Jun</text>
<text transform="translate(916.30 709) scale(0.8359 1)" fill="#F4F4F4">Sep</text>
<text transform="translate(1044.81 709) scale(0.8913 1)" fill="#F4F4F4">Dec</text>
<text transform="translate(1165.63 709) scale(0.8657 1)" fill="#F4F4F4">Mar</text>
<text transform="translate(290.40 725) scale(0.8706 1)" fill="#F4F4F4">2017</text>
<text transform="translate(805.00 725) scale(0.8961 1)" fill="#F4F4F4">2018</text>
<text transform="translate(1143.40 725) scale(0.8801 1)" fill="#F4F4F4">2019</text>
</svg>
</body></html>
